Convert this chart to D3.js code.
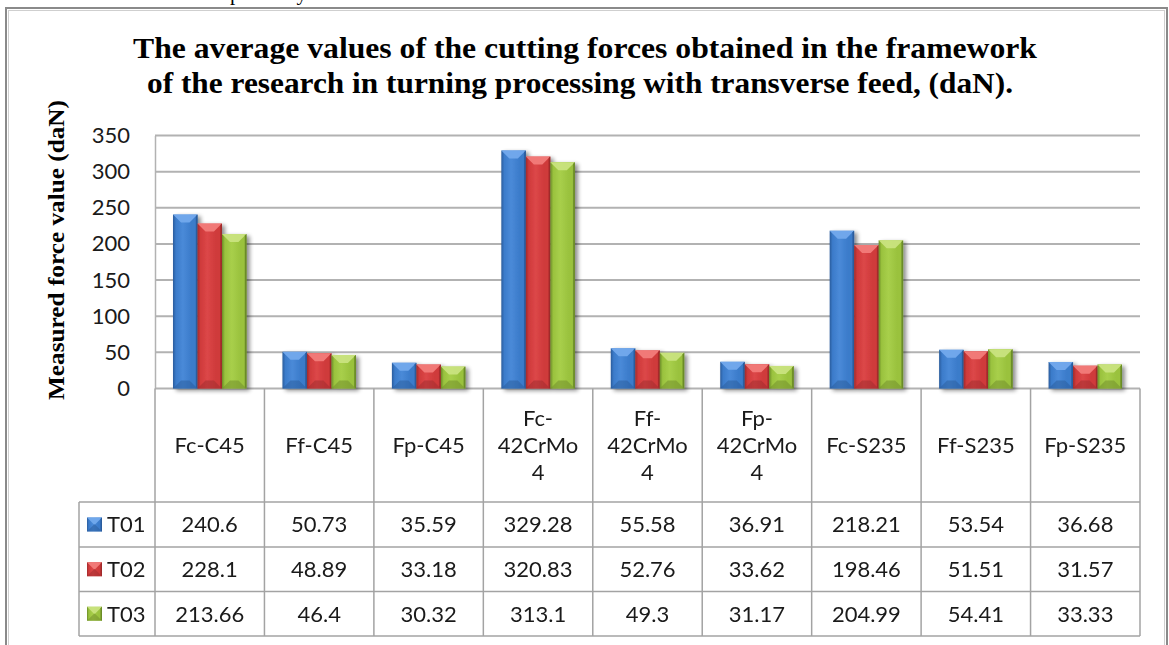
<!DOCTYPE html>
<html>
<head>
<meta charset="utf-8">
<script src="https://cdn.jsdelivr.net/npm/d3@7"></script>
<style>
  html, body { margin: 0; padding: 0; background: #fff; }
  svg { display: block; }
</style>
</head>
<body>
<svg id="chart" width="1169" height="645"></svg>
<script>
// Average cutting forces (daN) per force component / material, for tools T01..T03
const categories = ["Fc-C45", "Ff-C45", "Fp-C45", "Fc-42CrMo4", "Ff-42CrMo4", "Fp-42CrMo4", "Fc-S235", "Ff-S235", "Fp-S235"];
const headerLabels = [["Fc-C45"], ["Ff-C45"], ["Fp-C45"], ["Fc-", "42CrMo", "4"], ["Ff-", "42CrMo", "4"], ["Fp-", "42CrMo", "4"], ["Fc-S235"], ["Ff-S235"], ["Fp-S235"]];
const seriesNames = ["T01", "T02", "T03"];
const T01 = [240.6, 50.73, 35.59, 329.28, 55.58, 36.91, 218.21, 53.54, 36.68];
const T02 = [228.1, 48.89, 33.18, 320.83, 52.76, 33.62, 198.46, 51.51, 31.57];
const T03 = [213.66, 46.4, 30.32, 313.1, 49.3, 31.17, 204.99, 54.41, 33.33];
const yTicks = [0, 50, 100, 150, 200, 250, 300, 350];
const titleLines = [
  "The average values of the cutting forces obtained in the framework",
  "of the research in turning processing with transverse feed, (daN)."
];
const yTitle = "Measured force value (daN)";

const seriesValues = [T01, T02, T03];
const palette = {
  T01: { mid: "#3b7bca", dark: "#2a5c9c", light: "#4a8ad8", top: "#72a9ec", bottom: "#2c5f9f" },
  T02: { mid: "#cf3a3b", dark: "#a02a2b", light: "#dc4748", top: "#f27c7a", bottom: "#a32e2f" },
  T03: { mid: "#9ac23e", dark: "#6b8c27", light: "#a8cf4b", top: "#c9e37e", bottom: "#728f2b" }
};

const svg = d3.select("#chart");
const plot = { left: 155, right: 1140, top: 135.5, bottom: 388.5 };
const table = { legendLeft: 79, headerBottom: 502, rowBottoms: [547, 591.5, 636] };

const defs = svg.append("defs");
seriesNames.forEach(s => {
  const c = palette[s];
  const g = defs.append("linearGradient").attr("id", "grad-" + s)
    .attr("x1", "0%").attr("x2", "100%").attr("y1", "0%").attr("y2", "0%");
  [[0, c.dark], [0.12, c.mid], [0.4, c.light], [0.75, c.mid], [0.9, c.mid], [1, c.dark]]
    .forEach(([o, col]) => g.append("stop").attr("offset", o).attr("stop-color", col));
});
const shadow = defs.append("filter").attr("id", "shadow")
  .attr("x", "-20%").attr("y", "-5%").attr("width", "150%").attr("height", "115%");
shadow.append("feGaussianBlur").attr("in", "SourceAlpha").attr("stdDeviation", 2).attr("result", "b");
shadow.append("feOffset").attr("in", "b").attr("dx", 3).attr("dy", 2).attr("result", "o");
shadow.append("feComponentTransfer").attr("in", "o").attr("result", "s")
  .append("feFuncA").attr("type", "linear").attr("slope", 0.45);
const merge = shadow.append("feMerge");
merge.append("feMergeNode").attr("in", "s");
merge.append("feMergeNode").attr("in", "SourceGraphic");

// tail of the paragraph above the chart frame
svg.append("text").attr("x", 307).attr("y", 0).attr("text-anchor", "end")
  .attr("font-family", "Liberation Serif, Times New Roman, serif").attr("font-size", 21)
  .attr("fill", "#000").text("ve and feed respectively");

// chart frame
svg.append("rect").attr("x", 6).attr("y", 8).attr("width", 1161).attr("height", 700)
  .attr("fill", "#fff").attr("stroke", "#8a8a8a").attr("stroke-width", 2);
svg.append("rect").attr("x", 8.5).attr("y", 10.5).attr("width", 1156).attr("height", 700)
  .attr("fill", "none").attr("stroke", "#cfcfcf").attr("stroke-width", 1);

// title
svg.selectAll("text.title").data(titleLines).join("text")
  .attr("class", "title")
  .attr("x", (d, i) => i === 0 ? 133 : 147)
  .attr("y", (d, i) => i === 0 ? 58 : 93)
  .attr("textLength", (d, i) => i === 0 ? 904 : 866)
  .attr("lengthAdjust", "spacingAndGlyphs")
  .attr("font-family", "Liberation Serif, Times New Roman, serif")
  .attr("font-weight", "bold").attr("font-size", 29)
  .attr("fill", "#000").text(d => d);

// scales
const x = d3.scaleBand().domain(categories).range([plot.left, plot.right]).paddingInner(0).paddingOuter(0);
const xs = d3.scaleBand().domain(seriesNames).range([0, x.bandwidth()]).paddingInner(0).paddingOuter(0.735);
const y = d3.scaleLinear().domain([0, 350]).range([plot.bottom, plot.top]);

// gridlines
svg.append("g").selectAll("line").data(yTicks).join("line")
  .attr("x1", plot.left).attr("x2", plot.right)
  .attr("y1", d => y(d)).attr("y2", d => y(d))
  .attr("stroke", "#b2b2b2").attr("stroke-width", 2);

// y axis
const yAxis = svg.append("g").attr("transform", `translate(${plot.left},0)`)
  .call(d3.axisLeft(y).tickValues(yTicks).tickSize(0).tickPadding(25));
yAxis.select(".domain").attr("stroke", "#b2b2b2").attr("stroke-width", 1.5);
yAxis.selectAll("text").attr("font-family", "Lato, Calibri, sans-serif").attr("font-size", 22)
  .attr("fill", "#1a1a1a");

// y axis title
svg.append("text")
  .attr("transform", "translate(64,250) rotate(-90)")
  .attr("text-anchor", "middle")
  .attr("textLength", 300).attr("lengthAdjust", "spacingAndGlyphs")
  .attr("font-family", "Liberation Serif, Times New Roman, serif")
  .attr("font-weight", "bold").attr("font-size", 23).attr("fill", "#000")
  .text(yTitle);

// bevelled bar
function bevelBar(g, bx, by, w, h, c, s) {
  const b = Math.min(8, w / 2, h / 2);
  g.append("rect").attr("x", bx).attr("y", by).attr("width", w).attr("height", h)
    .attr("fill", `url(#grad-${s})`);
  g.append("path").attr("d", `M${bx},${by}L${bx + w},${by}L${bx + w - b},${by + b}L${bx + b},${by + b}Z`)
    .attr("fill", c.top).attr("opacity", 0.95);
  g.append("path").attr("d", `M${bx},${by + h}L${bx + w},${by + h}L${bx + w - b},${by + h - b}L${bx + b},${by + h - b}Z`)
    .attr("fill", c.bottom).attr("opacity", 0.55);
  g.append("path").attr("d", `M${bx + w},${by}L${bx + w},${by + h}L${bx + w - 1.5},${by + h - 1.5}L${bx + w - 1.5},${by + 1.5}Z`)
    .attr("fill", c.dark);
}

// bars
const barsG = svg.append("g").attr("filter", "url(#shadow)");
categories.forEach((cat, i) => {
  const grp = barsG.append("g");
  seriesNames.forEach((s, k) => {
    const v = seriesValues[k][i];
    bevelBar(grp, x(cat) + xs(s), y(v), xs.bandwidth(), y(0) - y(v), palette[s], s);
  });
});

// data table grid
const tg = svg.append("g").attr("stroke", "#a3a3a3").attr("stroke-width", 1.5).attr("fill", "none");
const rowLines = [table.headerBottom].concat(table.rowBottoms);
rowLines.forEach(ry => {
  tg.append("line").attr("x1", table.legendLeft).attr("x2", plot.right).attr("y1", ry).attr("y2", ry);
});
const colEdges = categories.map(c => x(c)).concat([plot.right]);
colEdges.forEach(cx => {
  tg.append("line").attr("x1", cx).attr("x2", cx).attr("y1", plot.bottom).attr("y2", table.rowBottoms[2]);
});
tg.append("line").attr("x1", table.legendLeft).attr("x2", table.legendLeft)
  .attr("y1", table.headerBottom).attr("y2", table.rowBottoms[2]);

const tableFont = "Lato, Calibri, sans-serif";

// header labels
categories.forEach((cat, i) => {
  const lines = headerLabels[i];
  const cy = (plot.bottom + table.headerBottom) / 2;
  const lh = 27;
  const t = svg.append("text").attr("text-anchor", "middle")
    .attr("font-family", tableFont).attr("font-size", 22).attr("fill", "#1a1a1a");
  lines.forEach((ln, j) => {
    t.append("tspan").attr("x", x(cat) + x.bandwidth() / 2)
      .attr("y", cy + (j - (lines.length - 1) / 2) * lh)
      .attr("dy", "0.36em").text(ln);
  });
});

// value rows with legend keys
const rowTops = [table.headerBottom].concat(table.rowBottoms.slice(0, 2));
seriesNames.forEach((s, k) => {
  const cy = (rowTops[k] + table.rowBottoms[k]) / 2;
  const kg = svg.append("g");
  bevelBar(kg, 87, cy - 7, 15, 14, palette[s], s);
  svg.append("text").attr("x", 107).attr("y", cy).attr("dy", "0.36em")
    .attr("font-family", tableFont).attr("font-size", 22).attr("fill", "#1a1a1a").text(s);
  categories.forEach((cat, i) => {
    svg.append("text").attr("x", x(cat) + x.bandwidth() / 2).attr("y", cy).attr("dy", "0.36em")
      .attr("text-anchor", "middle")
      .attr("font-family", tableFont).attr("font-size", 22).attr("fill", "#1a1a1a")
      .text(String(seriesValues[k][i]));
  });
});
</script>
</body>
</html>
